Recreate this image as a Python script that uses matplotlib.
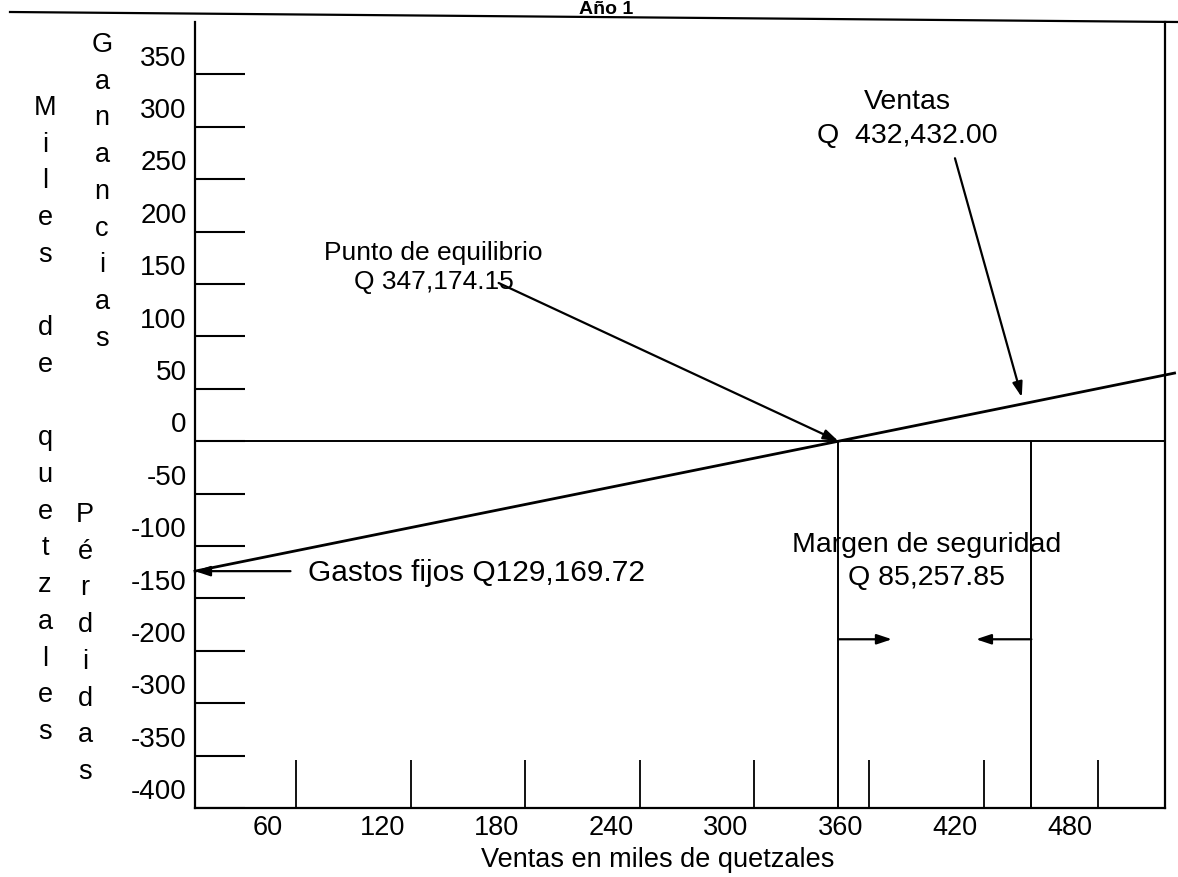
import matplotlib
matplotlib.use("Agg")
import matplotlib.pyplot as plt
from matplotlib.lines import Line2D

plt.rcParams['font.family'] = ['Liberation Sans', 'DejaVu Sans']

# --- Data (drawn scale) ---
Y_TICK_POS = [350, 300, 250, 200, 150, 100, 50, 0, -50, -100, -150, -200, -250, -300, -350]
Y_LABELS = ["350", "300", "250", "200", "150", "100", "50", "0",
            "-50", "-100", "-150", "-200", "-300", "-350", "-400"]
X_TICK_POS = [60, 120, 180, 240, 300, 360, 420, 480]
X_LABELS = ["60", "120", "180", "240", "300", "360", "420", "480"]

# profit / loss line (fixed costs -> break-even -> beyond sales)
LINE_X = [7, 344, 520]
LINE_Y = [-124, 0, 65]

BREAK_EVEN_X = 344
SALES_X = 445
MARGIN_Y = -189

FIXED_COSTS_TXT = "Gastos fijos Q129,169.72"
BREAK_EVEN_TXT = "Punto de equilibrio\nQ 347,174.15"
SALES_TXT = "Ventas\nQ  432,432.00"
MARGIN_TXT = "Margen de seguridad\nQ 85,257.85"

W, H = 1178, 877
fig = plt.figure(figsize=(W / 100, H / 100), dpi=100)
ax = fig.add_axes([195 / W, 1 - 808 / H, 970 / W, 786 / H])
ax.set_xlim(7, 515)
ax.set_ylim(-350, 400)

for side in ['left', 'bottom', 'right']:
    ax.spines[side].set_linewidth(1.6)
ax.spines['top'].set_visible(False)

# labels sit a little off the drawn tick lines, like in the original
ax.set_yticks([p + 18 for p in Y_TICK_POS], Y_LABELS)
ax.set_xticks([p - 15 for p in X_TICK_POS], X_LABELS)
ax.tick_params(axis='y', length=0, pad=6, labelsize=20)
ax.tick_params(axis='x', length=0, pad=5, labelsize=19.5)

# drawn tick lines
ax.hlines(Y_TICK_POS, 7, 33, color='black', lw=1.5)
ax.vlines(X_TICK_POS, -350, -304, color='black', lw=1.3)

# zero line
ax.axhline(0, color='black', lw=1.4)

# profit line
ax.plot(LINE_X, LINE_Y, color='black', lw=2.0, clip_on=False)

# break-even and sales verticals
ax.vlines([BREAK_EVEN_X, SALES_X], -350, 0, color='black', lw=1.4)

arrow = dict(arrowstyle='-|>,head_length=0.9,head_width=0.3', color='black', lw=1.6,
             shrinkA=0, shrinkB=0)

# margin arrows
ax.annotate('', xy=(372, MARGIN_Y), xytext=(BREAK_EVEN_X, MARGIN_Y), arrowprops=arrow)
ax.annotate('', xy=(416, MARGIN_Y), xytext=(SALES_X, MARGIN_Y), arrowprops=arrow)

# annotations
ax.annotate('', xy=(BREAK_EVEN_X, 0), xytext=(166, 151), arrowprops=arrow)
ax.text(132, 166, BREAK_EVEN_TXT, ha='center', va='center', fontsize=19, linespacing=1.25)

ax.annotate('', xy=(440, 42), xytext=(405, 270), arrowprops=arrow)
ax.text(380, 307, SALES_TXT, ha='center', va='center', fontsize=20.5, linespacing=1.4)

ax.annotate('', xy=(7, -124), xytext=(57, -124), arrowprops=arrow, annotation_clip=False)
ax.text(66, -126, FIXED_COSTS_TXT, ha='left', va='center', fontsize=21.5)

ax.text(390, -115, MARGIN_TXT, ha='center', va='center', fontsize=20.5, linespacing=1.35)

ax.set_xlabel("Ventas en miles de quetzales", fontsize=19.5)
ax.xaxis.set_label_coords(0.477, -0.049)

# stacked vertical axis titles
def stacked(word, x, y0, step=36.7):
    for i, ch in enumerate(word):
        if ch != ' ':
            fig.text(x / W, 1 - (y0 + i * step) / H, ch, ha='center', va='center', fontsize=19.5)

stacked("Miles de quetzales", 45, 108)
stacked("Ganancias", 102, 45)
stacked("Pérdidas", 85, 515)

# top frame line (slightly slanted in the scan) and title squeezed above it
fig.add_artist(Line2D([10 / W, 1], [1 - 12 / H, 1 - 22 / H], color='black', lw=1.6))
fig.text(606 / W, 1 - 14 / H, "Año 1", ha='center', va='baseline', fontsize=14, fontweight='bold')

fig.savefig("out.png", dpi=100)
